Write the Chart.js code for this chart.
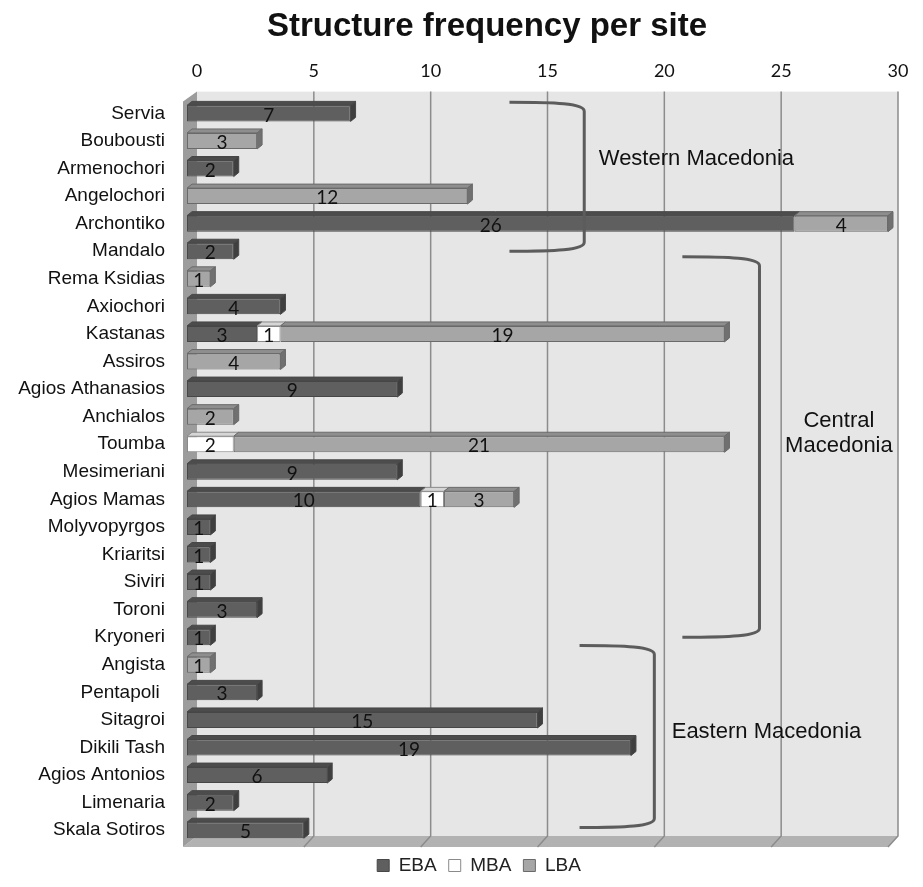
<!DOCTYPE html>
<html>
<head>
<meta charset="utf-8">
<script src="https://cdn.jsdelivr.net/npm/chart.js@4.4.1/dist/chart.umd.min.js"></script>
<style>
  body { margin: 0; background: #fff; }
</style>
</head>
<body>
<canvas id="structureChart" width="923" height="887"></canvas>
<script>
var sites = ['Servia', 'Boubousti', 'Armenochori', 'Angelochori', 'Archontiko', 'Mandalo',
  'Rema Ksidias', 'Axiochori', 'Kastanas', 'Assiros', 'Agios Athanasios', 'Anchialos',
  'Toumba', 'Mesimeriani', 'Agios Mamas', 'Molyvopyrgos', 'Kriaritsi', 'Siviri', 'Toroni',
  'Kryoneri', 'Angista', 'Pentapoli ', 'Sitagroi', 'Dikili Tash', 'Agios Antonios',
  'Limenaria', 'Skala Sotiros'];
var ebaValues = [7, null, 2, null, 26, 2, null, 4, 3, null, 9, null, null, 9, 10, 1, 1, 1, 3, 1, null, 3, 15, 19, 6, 2, 5];
var mbaValues = [null, null, null, null, null, null, null, null, 1, null, null, null, 2, null, 1, null, null, null, null, null, null, null, null, null, null, null, null];
var lbaValues = [null, 3, null, 12, 4, null, 1, null, 19, 4, null, 2, 21, null, 3, null, null, null, null, null, 1, null, null, null, null, null, null];
var xTicks = [0, 5, 10, 15, 20, 25, 30];

// regions: category span (index), bracket arm start / end (x value), label spot
var regions = [
  { text: ['Western Macedonia'], from: -0.4, to: 5, armX: 13.8, barX: 17, labelX: 21.8, labelY: 1.66 },
  { text: ['Central', 'Macedonia'], from: 5.2, to: 19, armX: 21.2, barX: 24.5, labelX: 27.9, labelY: 11.6 },
  { text: ['Eastern Macedonia'], from: 19.3, to: 25.9, armX: 16.8, barX: 20, labelX: 24.8, labelY: 22.45 }
];

var shades = {
  EBA: { front: '#5f5f5f', top: '#4c4c4c', side: '#3f3f3f', border: '#474747' },
  MBA: { front: '#ffffff', top: '#d6d6d6', side: '#b8b8b8', border: '#8a8a8a' },
  LBA: { front: '#a6a6a6', top: '#8e8e8e', side: '#707070', border: '#6a6a6a' }
};

var DX = 10, DY = 8;   // back wall offset
var BD = 5, BH = 4;    // bar depth

// title and legend sit a bit right of the canvas centre
var shiftPlugin = {
  id: 'shift',
  afterLayout: function(chart) {
    chart.titleBlock.left += 43;
    chart.titleBlock.right += 43;
    chart.legend.left += 35;
    chart.legend.right += 35;
  }
};

var wallPlugin = {
  id: 'wall',
  beforeDatasetsDraw: function(chart) {
    var ctx = chart.ctx, a = chart.chartArea, x = chart.scales.x;
    ctx.save();
    ctx.fillStyle = '#e6e6e6';
    ctx.fillRect(a.left + DX, a.top - DY, a.right - a.left, a.bottom - a.top);
    // floor
    ctx.fillStyle = '#b2b2b2';
    ctx.beginPath();
    ctx.moveTo(a.left - 4, a.bottom + 3);
    ctx.lineTo(a.left + DX, a.bottom - DY);
    ctx.lineTo(a.right + DX, a.bottom - DY);
    ctx.lineTo(a.right, a.bottom + 3);
    ctx.closePath();
    ctx.fill();
    // left wall
    ctx.fillStyle = '#9c9c9c';
    ctx.beginPath();
    ctx.moveTo(a.left - 4, a.top + 2);
    ctx.lineTo(a.left + DX, a.top - DY);
    ctx.lineTo(a.left + DX, a.bottom - DY);
    ctx.lineTo(a.left - 4, a.bottom + 3);
    ctx.closePath();
    ctx.fill();
    // grid lines
    ctx.strokeStyle = '#8c8c8c';
    ctx.lineWidth = 1.5;
    xTicks.forEach(function(v) {
      if (v === 0) return;
      var px = x.getPixelForValue(v);
      ctx.beginPath();
      ctx.moveTo(px + DX, a.top - DY);
      ctx.lineTo(px + DX, a.bottom - DY);
      ctx.lineTo(px, a.bottom + 3);
      ctx.stroke();
    });
    ctx.restore();
  },
  afterDatasetsDraw: function(chart) {
    var ctx = chart.ctx, x = chart.scales.x, y = chart.scales.y;
    ctx.save();
    // 3D faces
    var lastIdx = sites.map(function() { return -1; });
    chart.data.datasets.forEach(function(ds, di) {
      ds.data.forEach(function(v, i) { if (v) lastIdx[i] = di; });
    });
    chart.data.datasets.forEach(function(ds, di) {
      var meta = chart.getDatasetMeta(di);
      var sh = shades[ds.label];
      meta.data.forEach(function(bar, i) {
        if (!ds.data[i]) return;
        var x0 = bar.base, x1 = bar.x, yt = bar.y - bar.height / 2, yb = bar.y + bar.height / 2;
        ctx.fillStyle = sh.top;
        ctx.strokeStyle = sh.border;
        ctx.lineWidth = 1;
        ctx.beginPath();
        ctx.moveTo(x0, yt);
        ctx.lineTo(x0 + BD, yt - BH);
        ctx.lineTo(x1 + BD, yt - BH);
        ctx.lineTo(x1, yt);
        ctx.closePath();
        ctx.fill();
        ctx.stroke();
        if (lastIdx[i] === di) {
          ctx.fillStyle = sh.side;
          ctx.beginPath();
          ctx.moveTo(x1, yt);
          ctx.lineTo(x1 + BD, yt - BH);
          ctx.lineTo(x1 + BD, yb - BH);
          ctx.lineTo(x1, yb);
          ctx.closePath();
          ctx.fill();
          ctx.stroke();
        }
      });
    });
    // value labels
    ctx.fillStyle = '#111';
    ctx.font = '19px Lato, "Liberation Sans", sans-serif';
    ctx.textAlign = 'center';
    ctx.textBaseline = 'middle';
    chart.data.datasets.forEach(function(ds, di) {
      var meta = chart.getDatasetMeta(di);
      meta.data.forEach(function(bar, i) {
        if (!ds.data[i]) return;
        ctx.fillText(String(ds.data[i]), (bar.base + bar.x) / 2, bar.y + 2);
      });
    });
    // region brackets
    ctx.strokeStyle = '#5c5c5c';
    ctx.lineWidth = 3;
    regions.forEach(function(r) {
      var xa = x.getPixelForValue(r.armX), xv = x.getPixelForValue(r.barX);
      var y0 = y.getPixelForValue(r.from), y1 = y.getPixelForValue(r.to);
      var xm = xa + (xv - xa) * 0.6;
      ctx.beginPath();
      ctx.moveTo(xa, y0);
      ctx.bezierCurveTo(xm, y0, xv, y0 + 1, xv, y0 + 9);
      ctx.lineTo(xv, y1 - 9);
      ctx.bezierCurveTo(xv, y1 - 1, xm, y1, xa, y1);
      ctx.stroke();
    });
    ctx.fillStyle = '#111';
    ctx.font = '22px "Liberation Sans", Arial, sans-serif';
    regions.forEach(function(r) {
      var cx = x.getPixelForValue(r.labelX), cy = y.getPixelForValue(r.labelY);
      var n = r.text.length;
      r.text.forEach(function(t, k) {
        ctx.fillText(t, cx, cy + (k - (n - 1) / 2) * 25);
      });
    });
    ctx.restore();
  }
};

Chart.defaults.font.family = '"Liberation Sans", Arial, sans-serif';
Chart.defaults.color = '#111';

window.onload = function() {
  var ctx = document.getElementById('structureChart').getContext('2d');
  window.myBar = new Chart(ctx, {
    type: 'bar',
    data: {
      labels: sites,
      datasets: [
        { label: 'EBA', data: ebaValues, backgroundColor: shades.EBA.front, borderColor: shades.EBA.border },
        { label: 'MBA', data: mbaValues, backgroundColor: shades.MBA.front, borderColor: shades.MBA.border },
        { label: 'LBA', data: lbaValues, backgroundColor: shades.LBA.front, borderColor: shades.LBA.border }
      ]
    },
    options: {
      responsive: false,
      animation: false,
      indexAxis: 'y',
      layout: { padding: { left: 0, right: 35, top: 0, bottom: 2 } },
      datasets: {
        bar: { borderWidth: 1, borderSkipped: false, barPercentage: 0.58, categoryPercentage: 1 }
      },
      plugins: {
        title: {
          display: true,
          text: 'Structure frequency per site',
          color: '#111',
          font: { size: 33, weight: 'bold' },
          padding: { top: 7, bottom: 6 }
        },
        legend: {
          position: 'bottom',
          labels: {
            boxWidth: 12,
            boxHeight: 12,
            padding: 12,
            color: '#222',
            font: { size: 19 }
          }
        },
        tooltip: { enabled: false }
      },
      scales: {
        x: {
          position: 'top',
          stacked: true,
          min: 0,
          max: 30,
          grid: { display: false },
          border: { display: false },
          afterFit: function(s) { s.height = 47; },
          ticks: {
            stepSize: 5,
            padding: 10,
            labelOffset: DX,
            color: '#111',
            font: { family: 'Lato, "Liberation Sans", sans-serif', size: 18 }
          }
        },
        y: {
          stacked: true,
          grid: { display: false },
          border: { display: false },
          afterFit: function(s) { s.width = 187; },
          ticks: {
            padding: 14,
            color: '#111',
            font: { size: 19 }
          }
        }
      }
    },
    plugins: [wallPlugin, shiftPlugin]
  });
};
</script>
</body>
</html>
